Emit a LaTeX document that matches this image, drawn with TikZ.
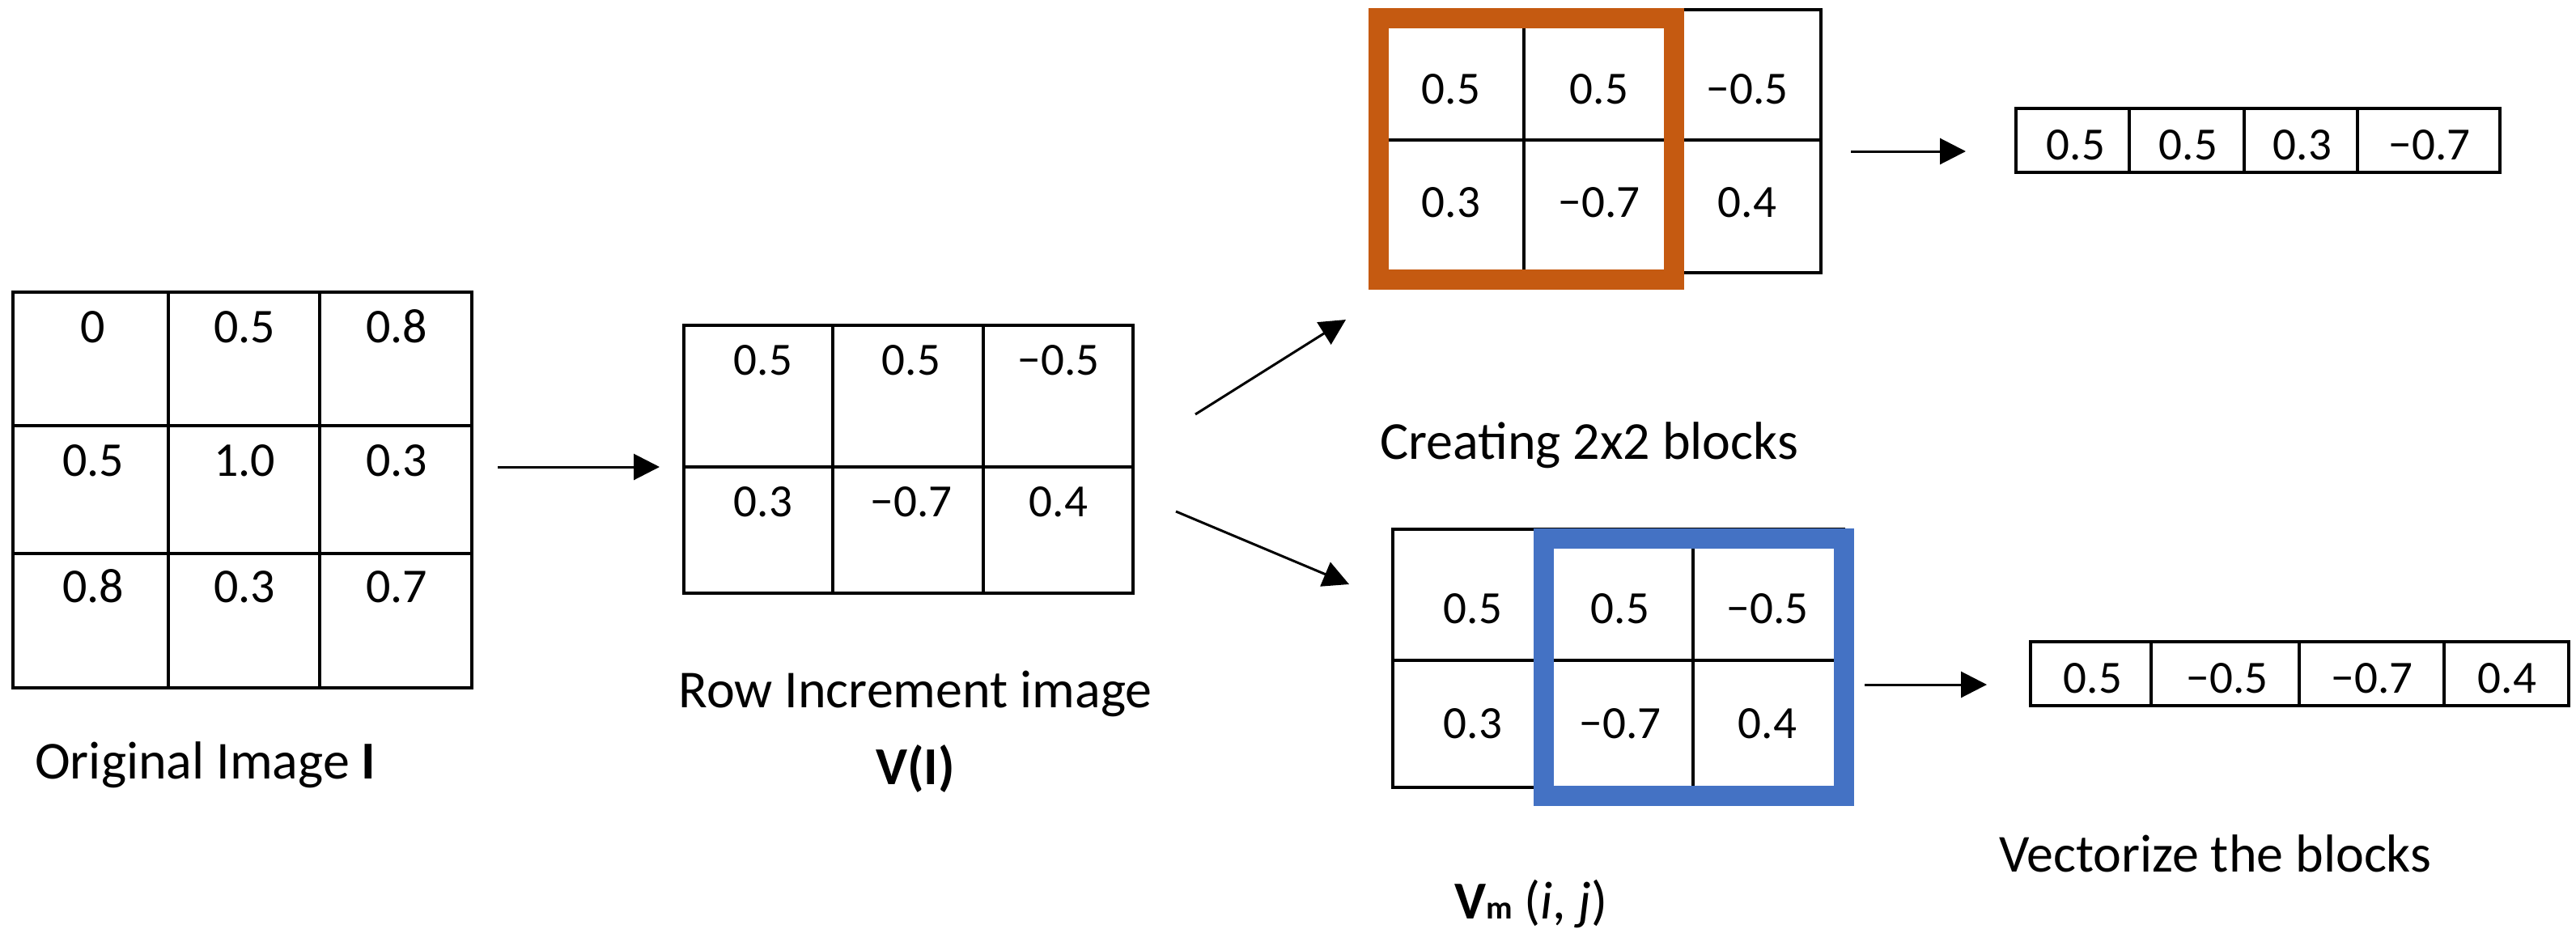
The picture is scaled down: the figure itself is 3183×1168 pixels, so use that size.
\documentclass[tikz,border=0pt]{standalone}
\usepackage{fontspec}
\setmainfont{Carlito}
\usetikzlibrary{arrows.meta}
\definecolor{borange}{HTML}{C55A11}
\definecolor{bblue}{HTML}{4472C4}
\newcommand\numfnt{\fontsize{57}{60}\selectfont}
\newcommand\numfntA{\fontsize{60}{64}\selectfont}
\newcommand\labfnt{\fontsize{66}{72}\selectfont}
\tikzset{
  tbl/.style={draw, line width=4pt, inner sep=0pt, outer sep=0pt, anchor=north west},
  ln/.style={line width=4pt},
  num/.style={anchor=base, inner sep=0pt, font=\numfnt},
  numA/.style={anchor=base, inner sep=0pt, font=\numfntA},
  lab/.style={inner sep=0pt, font=\labfnt},
  arr/.style={line width=3pt, -{Triangle[length=32pt,width=32pt]}},
  hilite/.style={line width=25pt},
}
\begin{document}
\begin{tikzpicture}[x=1pt,y=-1pt]
\useasboundingbox (0,0) rectangle (3183,1168);

% ---------- Original image grid ----------
\node[tbl, minimum width=567pt, minimum height=489pt] (g1) at (16,361) {};
\draw[ln] (208,361) -- (208,850) (395,361) -- (395,850)
          (16,526) -- (583,526) (16,684) -- (583,684);
\node[numA] (g1a) at (115,423) {0};
\node[numA] (g1b) at (302,423) {0.5};
\node[numA] (g1c) at (490,423) {0.8};
\node[numA] (g1d) at (115,588) {0.5};
\node[numA] (g1e) at (302,588) {1.0};
\node[numA] (g1f) at (490,588) {0.3};
\node[numA] (g1g) at (115,744) {0.8};
\node[numA] (g1h) at (302,744) {0.3};
\node[numA] (g1i) at (490,744) {0.7};
\node[lab, anchor=base west] (l1) at (43,962) {Original Image \textbf{I}};

% ---------- Row increment grid ----------
\node[tbl, minimum width=555pt, minimum height=331pt] (g2) at (845,402) {};
\draw[ln] (1029,402) -- (1029,733) (1215,402) -- (1215,733)
          (845,577) -- (1400,577);
\node[num] (g2a) at (943,463) {0.5};
\node[num] (g2b) at (1126,463) {0.5};
\node[num] (g2c) at (1308,463) {−0.5};
\node[num] (g2d) at (943,638) {0.3};
\node[num] (g2e) at (1126,638) {−0.7};
\node[num] (g2f) at (1308,638) {0.4};
\node[lab, anchor=base] (l2) at (1131,874) {Row Increment image};
\node[lab, anchor=base] (l3) at (1131,969) {\textbf{V(I)}};

% ---------- Top 2x2 block grid ----------
\node[tbl, minimum width=547pt, minimum height=325pt] (g3) at (1703,12) {};
\draw[ln] (1883,12) -- (1883,337) (2068,12) -- (2068,337)
          (1703,173) -- (2250,173);
\draw[hilite, borange] (1703.5,22.5) rectangle (2068.5,345.5);
\node[num] (g3a) at (1793,128) {0.5};
\node[num] (g3b) at (1976,128) {0.5};
\node[num] (g3c) at (2159,128) {−0.5};
\node[num] (g3d) at (1793,268) {0.3};
\node[num] (g3e) at (1976,268) {−0.7};
\node[num] (g3f) at (2159,268) {0.4};
\node[lab, anchor=base west] (l4) at (1705,567) {Creating 2x2 blocks};

% ---------- Bottom 2x2 block grid ----------
\node[tbl, minimum width=557pt, minimum height=319pt] (g4) at (1721,654) {};
\draw[ln] (1907,654) -- (1907,973) (2092,654) -- (2092,973)
          (1721,816) -- (2278,816);
\draw[hilite, bblue] (1907.5,665) rectangle (2278,983.5);
\node[num] (g4a) at (1820,770) {0.5};
\node[num] (g4b) at (2002,770) {0.5};
\node[num] (g4c) at (2184,770) {−0.5};
\node[num] (g4d) at (1820,912) {0.3};
\node[num] (g4e) at (2002,912) {−0.7};
\node[num] (g4f) at (2184,912) {0.4};
\node[lab, anchor=base west] (l5) at (1797,1135)
  {\textbf{V}{\fontsize{40}{44}\selectfont\bfseries m} (\textit{i}, \textit{j})};

% ---------- Top vector ----------
\node[tbl, minimum width=598pt, minimum height=79pt] (v1) at (2491,134) {};
\draw[ln] (2631,134) -- (2631,213) (2773,134) -- (2773,213) (2912.5,134) -- (2912.5,213);
\node[num] (v1a) at (2565,197) {0.5};
\node[num] (v1b) at (2704,197) {0.5};
\node[num] (v1c) at (2845,197) {0.3};
\node[num] (v1d) at (3002,197) {−0.7};

% ---------- Bottom vector ----------
\node[tbl, minimum width=665pt, minimum height=79pt] (v2) at (2509,793) {};
\draw[ln] (2658,793) -- (2658,872) (2841,793) -- (2841,872) (3020,793) -- (3020,872);
\node[num] (v2a) at (2586,856) {0.5};
\node[num] (v2b) at (2752,856) {−0.5};
\node[num] (v2c) at (2931,856) {−0.7};
\node[num] (v2d) at (3098,856) {0.4};
\node[lab, anchor=base west] (l6) at (2470,1077) {Vectorize the blocks};

% ---------- Arrows ----------
\coordinate (a1s) at (615,577);   \coordinate (a1e) at (815,577);
\coordinate (a2s) at (1477,512);  \coordinate (a2e) at (1663,395);
\coordinate (a3s) at (1453,632);  \coordinate (a3e) at (1667,722);
\coordinate (a4s) at (2287,187);  \coordinate (a4e) at (2429,187);
\coordinate (a5s) at (2304,846);  \coordinate (a5e) at (2455,846);
\draw[arr] (a1s) -- (a1e);
\draw[arr] (a2s) -- (a2e);
\draw[arr] (a3s) -- (a3e);
\draw[arr] (a4s) -- (a4e);
\draw[arr] (a5s) -- (a5e);
\end{tikzpicture}
\end{document}
